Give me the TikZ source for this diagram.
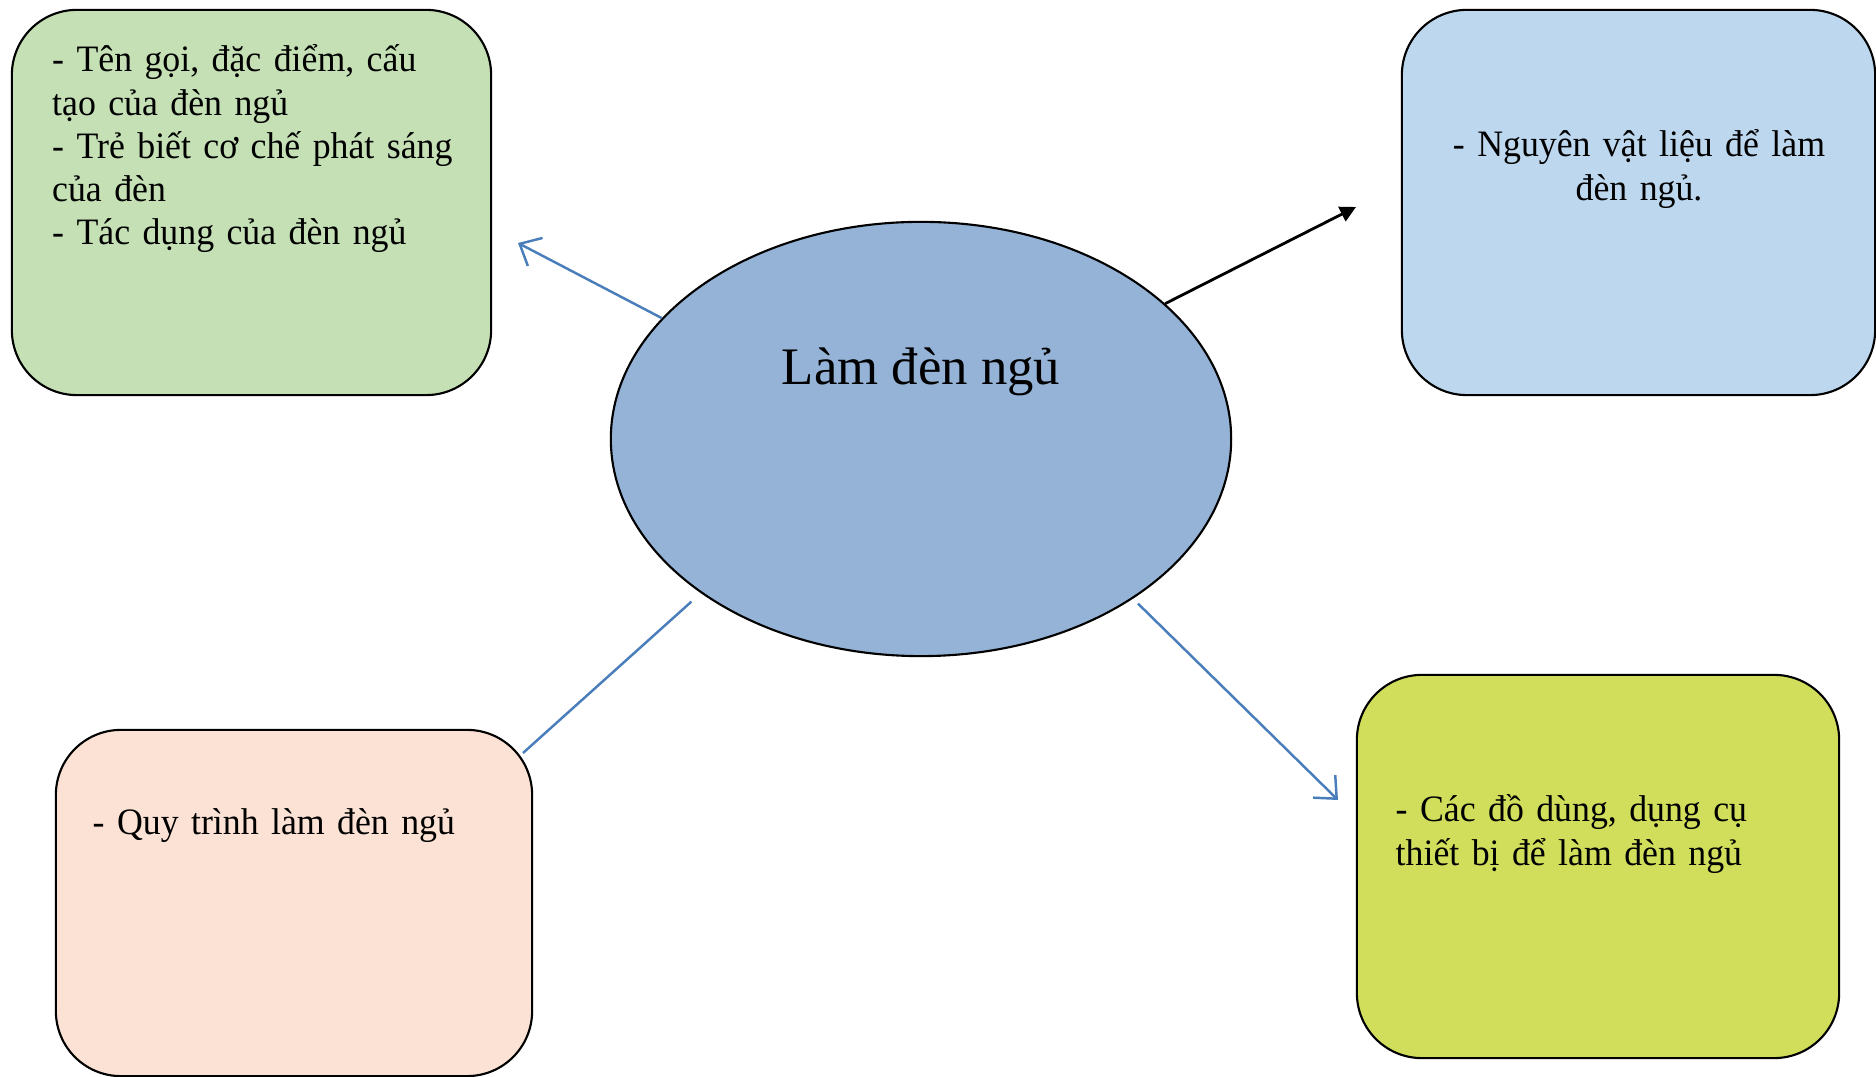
\documentclass[tikz,border=0pt]{standalone}
\usepackage{fontspec}
\setmainfont{Liberation Serif}
\newfontfamily\cardfont[FakeStretch=0.96]{Liberation Serif}
\usetikzlibrary{arrows.meta,shapes.geometric}
\definecolor{greenbox}{HTML}{C4E0B4}
\definecolor{bluebox}{HTML}{BDD7EE}
\definecolor{pinkbox}{HTML}{FBE2D5}
\definecolor{yellowbox}{HTML}{D1DE5B}
\definecolor{ellipsefill}{HTML}{95B3D7}
\definecolor{linkblue}{HTML}{4A7EBB}
\begin{document}
\begin{tikzpicture}[x=0.01cm, y=-0.01cm,
        card/.style={draw=black, line width=0.6pt, rounded corners=0.65cm, inner sep=0pt},
        cardtext/.style={inner sep=0pt, text width=4.3cm, font=\cardfont\fontsize{10.6}{12.25}\selectfont},
        link/.style={draw=linkblue, line width=0.7pt}]
        \useasboundingbox (0,0) rectangle (1876,1077);
        \node[card, fill=greenbox, minimum width=4.79cm, minimum height=3.85cm] (kienthuc) at (251.5,202.5) {};
        \node[card, fill=bluebox, minimum width=4.73cm, minimum height=3.85cm] (nguyenlieu) at (1638.5,202.5) {};
        \node[card, fill=pinkbox, minimum width=4.76cm, minimum height=3.46cm] (quytrinh) at (294,903) {};
        \node[card, fill=yellowbox, minimum width=4.82cm, minimum height=3.83cm] (dungcu) at (1598,866.5) {};
        \node[ellipse, draw=black, line width=0.6pt, fill=ellipsefill, minimum width=6.2cm, minimum height=4.34cm, inner sep=0pt] (lam) at (921,439) {};
        \node[font=\fontsize{15}{18}\selectfont, anchor=base, inner sep=0pt] (tieude) at (921,385) {Làm đèn ngủ};
        \node[cardtext, align=left, anchor=base west] (kienthuc-txt) at (51.5,72) {- Tên gọi, đặc điểm, cấu\\tạo của đèn ngủ\\- Trẻ biết cơ chế phát sáng\\của đèn\\- Tác dụng của đèn ngủ};
        \node[cardtext, align=center, anchor=base] (nguyenlieu-txt) at (1639,157) {- Nguyên vật liệu để làm\\đèn ngủ.};
        \node[cardtext, align=left, anchor=base west] (quytrinh-txt) at (92,835) {- Quy trình làm đèn ngủ};
        \node[cardtext, align=left, anchor=base west] (dungcu-txt) at (1395,822) {- Các đồ dùng, dụng cụ\\thiết bị để làm đèn ngủ};
        \coordinate (tipkt) at (518,243);
        \coordinate (tipnl) at (1356,207);
        \coordinate (endqt) at (523,753);
        \coordinate (tipdc) at (1338,800);
        \draw[link, -{Straight Barb[length=5pt,width=9pt]}] (lam.155) -- (tipkt);
        \draw[draw=black, line width=0.8pt, -{Triangle[length=4.5pt,width=4.5pt]}] (lam.29) -- (tipnl);
        \draw[link, shorten <=3.6pt] (lam.215) -- (endqt);
        \draw[link, shorten <=2pt, -{Straight Barb[length=5pt,width=9pt]}] (lam.323) -- (tipdc);
    \end{tikzpicture}
\end{document}
